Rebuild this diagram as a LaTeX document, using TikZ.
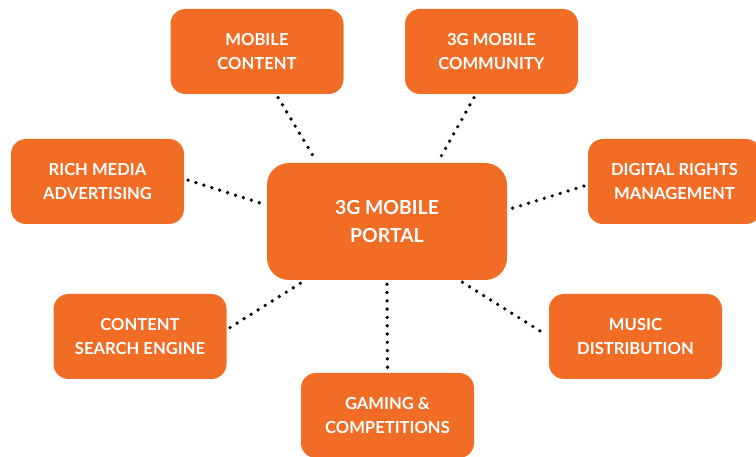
\documentclass[tikz,border=0pt]{standalone}
\usepackage{fontspec}
\setmainfont{Lato}
\usetikzlibrary{calc}
\definecolor{portorange}{RGB}{241,108,37}
\tikzset{
  topic/.style={fill=portorange, rounded corners=15pt, minimum width=173pt, minimum height=85pt,
    inner sep=0pt, align=center, text=white, font=\fontsize{16.6pt}{24pt}\selectfont\bfseries},
  hub/.style={fill=portorange, rounded corners=22pt, minimum width=240pt, minimum height=117pt,
    inner sep=0pt, align=center, text=white, font=\fontsize{19.4pt}{28pt}\selectfont\bfseries},
  link/.style={draw=black, line width=3.7pt, line cap=round, dash pattern=on 0pt off 8.3pt,
    shorten >=4pt, shorten <=4pt}
}
\begin{document}
\begin{tikzpicture}[x=1pt,y=-1pt]
\useasboundingbox (0,0) rectangle (756,457);
\node[hub] (portal) at (387,221.5) {3G MOBILE\\PORTAL};
\node[topic] (mc) at (257,51.5) {MOBILE\\CONTENT};
\node[topic] (comm) at (491.5,51.5) {3G MOBILE\\COMMUNITY};
\node[topic] (rm) at (97.5,181.5) {RICH MEDIA\\ADVERTISING};
\node[topic] (drm) at (674.5,181.5) {DIGITAL RIGHTS\\MANAGEMENT};
\node[topic] (cs) at (140,336.5) {CONTENT\\SEARCH ENGINE};
\node[topic] (mus) at (635.5,336.5) {MUSIC\\DISTRIBUTION};
\node[topic] (gm) at (387.5,415.5) {GAMING \&\\COMPETITIONS};

\draw[link] ($(mc.south west)!0.61!(mc.south east)$) -- ($(portal.north west)!0.21!(portal.north east)$);
\draw[link] ($(comm.south west)!0.41!(comm.south east)$) -- ($(portal.north west)!0.71!(portal.north east)$);
\draw[link] ($(rm.north east)!0.47!(rm.south east)$) -- ($(portal.north west)!0.36!(portal.south west)$);
\draw[link] ($(cs.north east)!0.42!(cs.south east)$) -- ($(portal.south west)!0.16!(portal.south east)$);
\draw[link] ($(drm.north west)!0.54!(drm.south west)$) -- ($(portal.north east)!0.40!(portal.south east)$);
\draw[link] ($(portal.south west)!0.80!(portal.south east)$) -- ($(mus.north west)!0.50!(mus.south west)$);
\draw[link] (portal.south) -- (gm.north);
\end{tikzpicture}
\end{document}
